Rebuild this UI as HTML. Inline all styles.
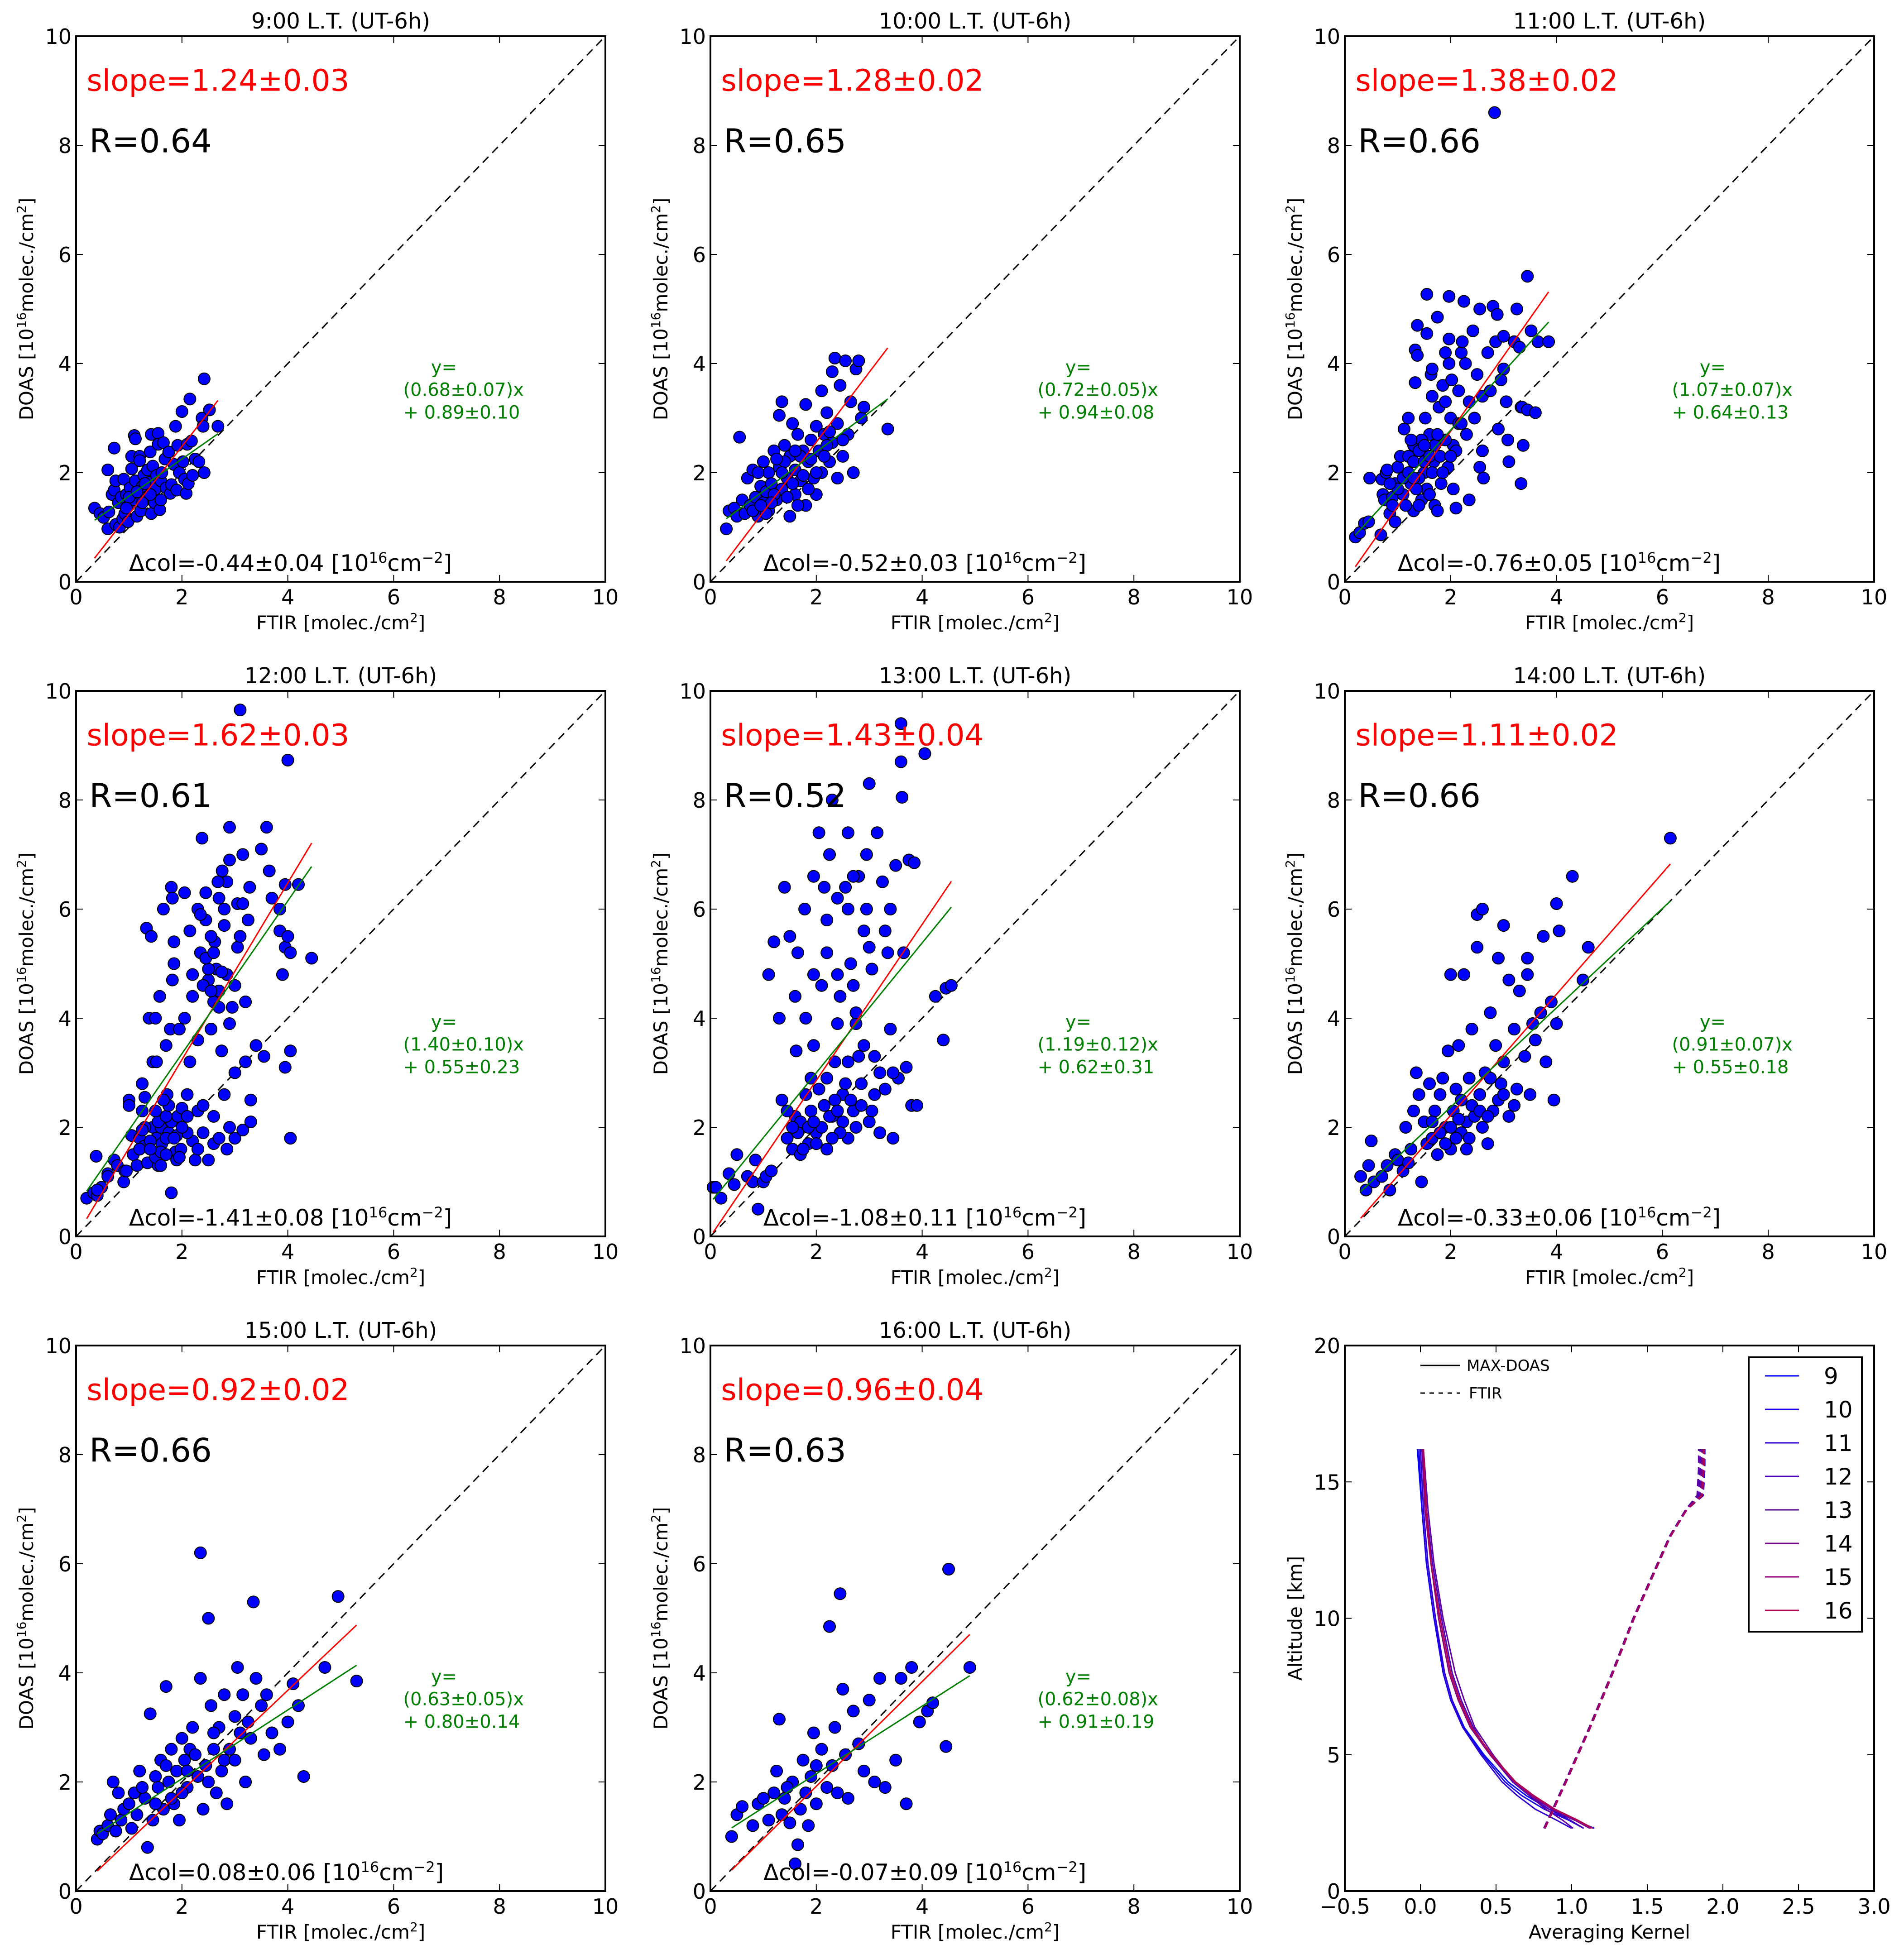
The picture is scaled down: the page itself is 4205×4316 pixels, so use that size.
<!DOCTYPE html>
<html><head><meta charset="utf-8"><style>
html,body{margin:0;padding:0;background:#fff}
svg{display:block}
text{font-family:"DejaVu Sans","Liberation Sans",sans-serif}
</style></head><body>
<svg id="fig" xmlns="http://www.w3.org/2000/svg" width="4205" height="4316" viewBox="0 0 4205 4316"></svg>
<script>
const titles=["9:00 L.T. (UT-6h)","10:00 L.T. (UT-6h)","11:00 L.T. (UT-6h)","12:00 L.T. (UT-6h)","13:00 L.T. (UT-6h)","14:00 L.T. (UT-6h)","15:00 L.T. (UT-6h)","16:00 L.T. (UT-6h)"];
const slopes=[1.24,1.28,1.38,1.62,1.43,1.11,0.92,0.96];
const slopeTxt=["1.24±0.03","1.28±0.02","1.38±0.02","1.62±0.03","1.43±0.04","1.11±0.02","0.92±0.02","0.96±0.04"];
const rTxt=["0.64","0.65","0.66","0.61","0.52","0.66","0.66","0.63"];
const fitA=[0.68,0.72,1.07,1.40,1.19,0.91,0.63,0.62];
const fitB=[0.89,0.94,0.64,0.55,0.62,0.55,0.80,0.91];
const fitATxt=["(0.68±0.07)x","(0.72±0.05)x","(1.07±0.07)x","(1.40±0.10)x","(1.19±0.12)x","(0.91±0.07)x","(0.63±0.05)x","(0.62±0.08)x"];
const fitBTxt=["+ 0.89±0.10","+ 0.94±0.08","+ 0.64±0.13","+ 0.55±0.23","+ 0.62±0.31","+ 0.55±0.18","+ 0.80±0.14","+ 0.91±0.19"];
const dcolTxt=["-0.44±0.04","-0.52±0.03","-0.76±0.05","-1.41±0.08","-1.08±0.11","-0.33±0.06","0.08±0.06","-0.07±0.09"];
const ticks=[0,2,4,6,8,10];
const pts9=[[0.35,1.35],[0.45,1.25],[0.52,1.18],[0.6,2.05],[0.6,0.97],[0.62,1.28],[0.68,1.6],[0.72,1.68],[0.72,2.45],[0.75,1.85],[0.75,1.05],[0.8,1.45],[0.82,1.0],[0.85,1.55],[0.88,1.15],[0.9,1.88],[0.92,1.25],[0.95,1.6],[0.98,1.1],[1.0,1.4],[1.02,1.72],[1.05,2.3],[1.05,2.07],[1.08,1.5],[1.1,2.68],[1.12,2.62],[1.12,1.85],[1.15,1.2],[1.18,1.62],[1.2,2.3],[1.2,2.22],[1.22,1.3],[1.25,1.75],[1.28,1.95],[1.3,1.5],[1.35,2.05],[1.38,1.82],[1.4,2.38],[1.42,2.7],[1.42,1.25],[1.45,2.12],[1.48,1.45],[1.5,1.7],[1.52,1.95],[1.55,2.72],[1.55,2.52],[1.58,1.32],[1.6,1.85],[1.62,2.0],[1.65,2.55],[1.68,2.25],[1.7,1.72],[1.75,2.38],[1.78,1.62],[1.8,1.78],[1.85,2.15],[1.88,2.85],[1.9,1.68],[1.92,2.5],[1.95,2.0],[2.0,3.12],[2.02,2.2],[2.05,1.88],[2.08,1.62],[2.1,2.52],[2.12,1.8],[2.15,3.35],[2.18,2.58],[2.2,1.95],[2.25,2.25],[2.32,2.2],[2.38,3.0],[2.4,2.85],[2.42,3.72],[2.42,2.0],[2.52,3.15],[2.68,2.85],[1.0,1.55],[1.15,1.65],[1.3,1.8],[1.4,1.6],[1.6,1.5],[0.95,1.35],[1.25,1.45]];
const pts10=[[0.3,0.97],[0.35,1.3],[0.45,1.35],[0.5,1.2],[0.55,2.65],[0.6,1.5],[0.65,1.25],[0.7,1.9],[0.75,1.4],[0.8,2.05],[0.85,1.55],[0.9,1.2],[0.95,1.75],[1.0,1.45],[1.0,2.2],[1.05,1.65],[1.1,1.3],[1.1,2.0],[1.15,1.8],[1.2,2.4],[1.25,1.5],[1.3,2.1],[1.3,3.05],[1.35,1.7],[1.35,3.3],[1.4,2.5],[1.45,1.9],[1.5,2.3],[1.5,1.2],[1.55,2.9],[1.6,1.6],[1.6,2.05],[1.65,2.7],[1.7,1.85],[1.75,2.4],[1.8,3.25],[1.8,1.4],[1.85,2.2],[1.9,2.6],[1.95,1.9],[2.0,2.85],[2.0,1.6],[2.05,2.4],[2.1,3.5],[2.1,2.0],[2.15,2.7],[2.2,3.1],[2.25,2.2],[2.3,3.85],[2.3,2.55],[2.35,4.1],[2.4,2.9],[2.4,1.9],[2.45,3.6],[2.5,2.3],[2.55,4.05],[2.6,2.7],[2.65,3.3],[2.7,2.0],[2.75,3.9],[2.8,4.05],[2.85,3.0],[2.9,3.2],[3.35,2.8],[0.9,2.0],[1.2,1.6],[1.4,2.2],[1.7,2.3],[1.9,2.25],[2.2,2.5],[1.55,1.8],[1.05,1.25],[0.8,1.3],[1.25,2.25],[1.65,1.4],[2.0,2.0],[1.15,1.45],[1.45,1.55],[1.75,1.95],[2.25,2.75],[0.95,1.4],[1.35,2.0],[1.85,1.7],[2.15,2.3],[2.5,2.6],[1.6,2.4]];
const pts11=[[0.2,0.82],[0.28,0.9],[0.37,1.07],[0.45,1.1],[0.47,1.9],[0.68,0.86],[0.72,1.6],[0.7,1.88],[0.75,1.5],[0.78,2.0],[0.8,2.05],[0.85,1.25],[0.9,1.55],[0.9,1.4],[0.95,1.8],[0.95,1.1],[1.0,2.1],[1.05,2.3],[1.1,1.6],[1.12,2.8],[1.2,3.0],[1.2,2.3],[1.25,1.8],[1.3,2.5],[1.3,1.3],[1.33,4.25],[1.37,4.15],[1.33,3.65],[1.37,4.7],[1.4,2.4],[1.45,1.5],[1.5,2.0],[1.52,3.0],[1.55,4.55],[1.55,5.27],[1.6,2.7],[1.63,3.8],[1.65,3.4],[1.65,3.9],[1.68,2.2],[1.7,1.4],[1.75,4.85],[1.75,1.3],[1.78,3.2],[1.8,2.6],[1.82,1.8],[1.85,3.6],[1.9,4.2],[1.97,5.23],[1.97,4.45],[1.97,4.0],[2.0,3.0],[2.02,3.7],[2.05,2.5],[2.05,1.7],[2.1,1.35],[2.15,2.9],[2.2,4.2],[2.22,4.4],[2.25,5.14],[2.28,4.0],[2.3,2.7],[2.35,1.5],[2.42,4.6],[2.45,3.0],[2.5,3.8],[2.55,2.1],[2.55,5.0],[2.6,2.4],[2.6,3.4],[2.62,1.9],[2.7,4.2],[2.75,3.5],[2.8,5.05],[2.85,4.4],[2.88,4.9],[2.9,2.8],[2.95,3.7],[3.0,4.5],[3.0,3.9],[3.05,3.3],[3.08,2.6],[3.1,2.2],[3.2,4.4],[3.25,5.0],[3.3,4.3],[3.33,3.2],[3.35,3.2],[3.33,1.8],[3.37,2.5],[3.45,5.6],[3.45,3.15],[3.52,4.6],[3.6,3.1],[3.65,4.4],[3.85,4.4],[2.83,8.6],[1.1,1.9],[1.2,2.0],[1.3,2.2],[1.4,1.9],[1.5,2.2],[1.6,2.3],[1.7,2.5],[1.8,2.3],[1.9,2.6],[1.55,1.7],[1.45,2.6],[1.35,1.7],[1.25,2.6],[1.65,2.0],[1.75,2.7],[1.95,2.1],[2.1,2.4],[2.2,2.9],[1.15,1.4],[1.0,1.7],[0.85,1.8],[1.4,1.4],[1.6,1.6],[1.85,2.0],[2.0,2.3],[1.3,1.9],[1.5,2.5],[2.35,3.3],[2.15,3.5],[1.9,3.3]];
const pts12=[[0.2,0.7],[0.33,0.8],[0.4,0.75],[0.48,0.9],[0.38,1.47],[0.6,1.15],[0.72,1.4],[0.9,1.0],[0.78,1.3],[0.92,1.2],[1.0,2.5],[1.0,2.4],[1.05,1.85],[1.08,1.5],[1.15,1.3],[1.2,1.8],[1.25,2.8],[1.25,2.3],[1.28,1.65],[1.3,2.55],[1.35,1.35],[1.38,4.0],[1.33,5.65],[1.42,5.5],[1.45,3.2],[1.45,2.0],[1.5,4.0],[1.52,1.8],[1.52,3.2],[1.55,1.3],[1.58,4.4],[1.6,2.0],[1.62,1.7],[1.65,6.0],[1.7,3.5],[1.72,2.6],[1.75,1.9],[1.78,3.8],[1.8,2.1],[1.8,0.8],[1.82,4.7],[1.85,5.0],[1.88,1.55],[1.9,1.4],[1.8,6.4],[1.82,6.2],[1.85,5.4],[1.92,2.2],[1.95,3.8],[1.98,1.6],[2.05,4.0],[2.05,6.3],[2.1,2.6],[2.15,3.2],[2.2,4.4],[2.2,1.75],[2.1,1.9],[2.25,1.4],[2.3,3.6],[2.3,2.3],[2.35,5.2],[2.4,2.4],[2.45,5.8],[2.5,4.7],[2.5,1.4],[2.55,3.8],[2.6,1.7],[2.62,5.4],[2.65,4.9],[2.7,4.5],[2.75,3.4],[2.8,2.6],[2.85,4.8],[2.9,3.9],[2.3,6.0],[2.38,7.3],[2.45,6.3],[2.55,5.5],[2.8,6.0],[2.8,5.7],[2.85,6.5],[2.7,6.2],[2.9,7.5],[2.9,6.9],[2.68,6.5],[2.76,6.7],[2.35,5.9],[3.0,4.6],[3.05,5.3],[3.05,6.1],[3.1,5.5],[3.15,7.0],[3.15,6.1],[3.2,4.3],[3.25,5.8],[3.28,6.4],[3.3,2.5],[4.0,8.73],[3.1,9.65],[3.6,7.5],[3.5,7.1],[3.65,6.7],[3.7,6.2],[3.85,6.0],[3.95,6.45],[4.2,6.45],[3.85,5.6],[3.95,5.3],[4.05,5.2],[4.0,5.5],[4.45,5.1],[3.9,4.8],[4.05,3.4],[3.95,3.1],[4.05,1.8],[3.2,3.2],[3.4,3.5],[3.55,3.3],[3.0,3.0],[2.6,2.2],[2.9,2.0],[2.85,1.6],[3.0,1.8],[3.15,1.95],[3.3,2.1],[2.7,1.8],[2.4,1.9],[1.5,1.45],[1.6,1.55],[1.7,1.8],[1.55,2.1],[1.4,1.75],[1.2,1.6],[1.3,2.0],[1.7,2.2],[1.9,1.85],[2.0,2.35],[1.75,2.4],[0.4,0.85],[0.6,1.1],[0.95,1.2],[2.5,4.9],[2.6,4.3],[2.75,4.85],[2.2,4.8],[2.95,4.2],[2.4,4.6],[1.6,1.3],[1.7,1.5],[1.85,1.8],[2.0,2.0],[1.4,1.6],[1.65,2.5],[2.1,2.2],[2.3,1.6],[1.95,1.45],[1.5,2.3],[1.25,1.95],[2.7,4.2],[2.55,4.5],[2.45,5.1],[2.15,5.6],[2.6,5.2]];
const pts13=[[0.05,0.9],[0.1,0.9],[0.2,0.7],[0.35,1.15],[0.45,0.95],[0.5,1.5],[0.7,1.1],[0.8,1.0],[0.85,1.4],[0.9,0.5],[1.0,1.0],[1.05,1.1],[1.1,4.8],[1.15,1.2],[1.2,5.4],[1.3,4.0],[1.35,2.5],[1.4,6.4],[1.45,1.8],[1.5,5.5],[1.55,1.6],[1.6,2.2],[1.62,3.4],[1.65,5.2],[1.7,1.5],[1.75,2.0],[1.78,6.0],[1.8,4.0],[1.85,1.7],[1.9,2.9],[1.95,6.6],[1.95,3.5],[2.0,1.9],[2.05,7.4],[2.1,4.6],[2.15,2.4],[2.2,5.8],[2.2,1.6],[2.25,7.0],[2.3,2.2],[2.3,8.0],[2.35,3.2],[2.4,6.2],[2.45,4.4],[2.5,2.6],[2.55,6.4],[2.6,1.8],[2.6,7.4],[2.65,5.0],[2.7,2.3],[2.75,3.9],[2.8,6.6],[2.85,2.8],[2.9,5.6],[2.95,7.0],[3.0,2.1],[3.0,8.3],[3.05,4.9],[3.1,3.3],[3.15,7.4],[3.2,1.9],[3.25,6.5],[3.3,2.7],[3.35,5.2],[3.4,3.8],[3.45,1.8],[3.5,6.8],[3.55,2.9],[3.6,9.4],[3.6,8.7],[3.62,8.05],[3.65,5.2],[3.7,3.1],[3.75,6.9],[3.8,2.4],[3.85,6.85],[3.9,2.4],[4.05,8.85],[4.25,4.4],[4.4,3.6],[4.45,4.55],[4.55,4.6],[3.45,3.0],[3.2,3.0],[2.9,3.5],[2.7,4.6],[2.4,3.9],[2.1,2.0],[1.9,2.3],[1.8,2.6],[2.05,2.7],[2.35,2.5],[2.5,2.1],[2.2,2.9],[1.7,2.1],[1.45,2.3],[2.75,2.0],[3.05,2.3],[2.95,6.0],[2.6,6.0],[2.15,6.4],[2.4,4.8],[1.95,4.8],[3.4,6.0],[2.7,6.6],[3.0,5.3],[1.6,4.4],[2.8,3.3],[1.85,2.0],[2.25,2.2],[2.65,2.5],[2.45,1.9],[2.0,1.7],[1.65,1.9],[1.75,1.6],[1.95,2.1],[2.4,2.3],[2.55,2.8],[2.85,2.4],[3.1,2.6],[2.3,1.8],[1.55,2.0],[2.6,3.2],[3.3,5.6],[2.75,4.1],[2.2,5.2]];
const pts14=[[0.3,1.1],[0.4,0.85],[0.45,1.3],[0.5,1.75],[0.55,1.0],[0.7,1.1],[0.8,1.3],[0.85,0.85],[0.95,1.5],[1.0,1.4],[1.1,1.2],[1.15,2.0],[1.2,1.35],[1.25,1.6],[1.3,2.3],[1.35,3.0],[1.4,2.6],[1.45,1.0],[1.5,2.1],[1.55,1.7],[1.6,2.8],[1.65,1.8],[1.7,2.3],[1.75,1.5],[1.8,2.6],[1.85,2.9],[1.9,2.0],[1.95,3.4],[2.0,1.6],[2.0,4.8],[2.05,2.3],[2.1,2.7],[2.15,3.5],[2.2,1.9],[2.25,4.8],[2.3,2.1],[2.35,2.9],[2.4,3.8],[2.45,2.2],[2.5,5.9],[2.5,5.3],[2.55,2.6],[2.6,6.0],[2.65,3.0],[2.7,1.7],[2.75,4.1],[2.8,2.3],[2.85,3.5],[2.9,5.1],[2.95,2.8],[3.0,5.7],[3.0,3.2],[3.1,2.2],[3.1,4.7],[3.2,3.8],[3.25,2.7],[3.3,4.5],[3.4,3.3],[3.45,5.1],[3.5,2.6],[3.6,3.6],[3.7,4.1],[3.75,5.5],[3.8,3.2],[3.9,4.3],[3.95,2.5],[4.0,3.9],[4.05,5.6],[4.3,6.6],[4.6,5.3],[4.5,4.7],[4.0,6.1],[3.45,4.8],[2.2,2.5],[2.6,2.0],[2.9,2.5],[1.8,1.9],[1.65,2.1],[2.35,1.8],[2.15,2.15],[6.15,7.3],[3.55,3.9],[2.75,2.9],[3.2,2.4],[2.4,2.4],[2.0,2.0],[2.55,2.3],[3.0,2.6],[1.9,1.7],[2.3,1.6],[2.7,2.2],[2.1,1.8]];
const pts15=[[0.4,0.95],[0.45,1.1],[0.5,1.05],[0.6,1.2],[0.65,1.4],[0.7,2.0],[0.75,1.1],[0.8,1.8],[0.85,1.3],[0.9,1.5],[1.0,1.6],[1.05,1.15],[1.1,1.8],[1.15,1.4],[1.2,2.2],[1.3,1.7],[1.35,0.8],[1.4,3.25],[1.45,1.3],[1.5,2.1],[1.55,1.9],[1.6,2.4],[1.65,1.5],[1.7,3.75],[1.75,2.0],[1.8,2.6],[1.85,1.6],[1.9,2.2],[1.95,1.3],[2.0,2.8],[2.05,2.4],[2.1,1.9],[2.15,2.6],[2.2,3.0],[2.3,2.1],[2.35,3.9],[2.35,6.2],[2.4,1.5],[2.45,2.3],[2.5,5.0],[2.55,3.4],[2.6,2.6],[2.65,1.8],[2.7,3.0],[2.75,2.2],[2.8,3.6],[2.85,1.6],[2.9,2.6],[3.0,3.2],[3.05,4.1],[3.1,2.9],[3.15,3.6],[3.2,2.0],[3.25,3.1],[3.35,5.3],[3.4,3.9],[3.5,3.4],[3.55,2.5],[3.6,3.6],[3.7,2.9],[3.85,2.6],[4.0,3.1],[4.1,3.8],[4.2,3.4],[4.3,2.1],[4.7,4.1],[4.95,5.4],[5.3,3.85],[2.0,1.8],[2.5,2.0],[1.8,1.7],[2.25,2.5],[2.8,2.4],[3.3,2.8],[1.25,1.9],[1.7,2.3],[2.1,2.2],[2.6,2.9],[3.0,2.4],[1.5,1.6]];
const pts16=[[0.4,1.0],[0.5,1.4],[0.6,1.55],[0.8,1.2],[0.9,1.6],[1.0,1.7],[1.1,1.3],[1.2,1.8],[1.25,2.2],[1.3,3.15],[1.35,1.4],[1.4,1.7],[1.5,1.25],[1.55,2.0],[1.6,0.5],[1.65,0.85],[1.7,1.5],[1.75,2.4],[1.8,1.8],[1.85,1.2],[1.9,2.1],[1.95,2.9],[2.0,1.6],[2.1,2.6],[2.2,1.9],[2.25,4.85],[2.3,2.3],[2.35,3.0],[2.4,1.8],[2.45,5.45],[2.5,3.7],[2.55,2.5],[2.7,3.3],[2.8,2.7],[2.9,2.2],[3.0,3.5],[3.1,2.0],[3.2,3.9],[3.3,1.9],[3.5,2.4],[3.6,3.9],[3.7,1.6],[3.8,4.1],[3.95,3.1],[4.1,3.3],[4.2,3.45],[4.45,2.65],[4.5,5.9],[4.9,4.1],[2.6,1.7],[1.45,1.9],[2.0,2.3]];
const allPts=[pts9,pts10,pts11,pts12,pts13,pts14,pts15,pts16];
const akAlt=[2.3,2.6,3.0,3.5,4.0,5.0,6.0,7.0,8.0,10.0,12.0,14.0,16.2];
const akHours=["9","10","11","12","13","14","15","16"];
const akColors=["#0000ff","#1800ea","#3000d2","#4800ba","#6000a4","#78008e","#900078","#b00050"];
const akMax=[
 [1.15,1.02,0.85,0.70,0.58,0.42,0.29,0.21,0.16,0.09,0.04,0.01,-0.02],
 [1.08,0.98,0.82,0.67,0.56,0.41,0.28,0.20,0.15,0.09,0.04,0.01,-0.01],
 [1.00,0.90,0.76,0.64,0.54,0.40,0.28,0.21,0.16,0.10,0.05,0.02,0.00],
 [1.08,0.99,0.85,0.72,0.61,0.46,0.35,0.27,0.21,0.14,0.08,0.04,0.01],
 [1.01,0.94,0.83,0.72,0.62,0.48,0.36,0.29,0.23,0.15,0.09,0.05,0.02],
 [1.12,1.02,0.87,0.73,0.62,0.46,0.33,0.25,0.19,0.12,0.07,0.03,0.01],
 [1.13,1.03,0.88,0.74,0.62,0.46,0.33,0.25,0.19,0.12,0.07,0.03,0.02],
 [1.14,1.04,0.89,0.75,0.63,0.47,0.34,0.26,0.20,0.13,0.07,0.04,0.02]];
const ftirAlt=[2.3,4.0,6.0,8.0,10.0,12.0,13.0,14.0,14.5,15.5,16.2];
const ftirAk=[0.82,0.96,1.12,1.27,1.41,1.57,1.65,1.76,1.85,1.86,1.86];
const ftirOffsets=[0.02,0.01,0.0,-0.01,-0.02,0.0,0.01,0.015];
const akXTicks=[-0.5,0,0.5,1,1.5,2,2.5,3];
const akYTicks=[0,5,10,15,20];

const NS="http://www.w3.org/2000/svg";
const svg=document.getElementById('fig');
function mk(tag,attrs,parent){const e=document.createElementNS(NS,tag);for(const k in attrs)e.setAttribute(k,attrs[k]);(parent||svg).appendChild(e);return e;}
const colsX=[168,1569,2970], rowsY=[80,1526,2972], W=1169, H=1205;
const fs=46;

for(let p=0;p<8;p++){
  const x0=colsX[p%3], y0=rowsY[Math.floor(p/3)];
  const sx=v=>x0+v/10*W, sy=v=>y0+H-v/10*H;
  const g=mk('g',{});
  
  
  const d=mk('line',{x1:sx(0),y1:sy(0),x2:sx(10),y2:sy(10),stroke:'#000','stroke-width':3,'stroke-dasharray':'18,12'},g);
  
  
  const pts=allPts[p];
  for(const pt of pts){
    const c=mk('circle',{cx:sx(pt[0]),cy:sy(pt[1]),r:13,fill:'#0000ff',stroke:'#000','stroke-width':2},g);
    
    
  }
  const xs=pts.map(q=>q[0]); const mn=Math.min(...xs), mx=Math.max(...xs);
  const rl=mk('line',{x1:sx(mn),y1:sy(slopes[p]*mn),x2:sx(mx),y2:sy(slopes[p]*mx),stroke:'#ff0000','stroke-width':3},g);
  
  
  const gl=mk('line',{x1:sx(mn),y1:sy(fitA[p]*mn+fitB[p]),x2:sx(mx),y2:sy(fitA[p]*mx+fitB[p]),stroke:'#008000','stroke-width':3},g);
  
  
  const fr=mk('rect',{x:x0,y:y0,width:W,height:H,fill:'none',stroke:'#000','stroke-width':4},g);
  
  
  for(const t of ticks){
    mk('line',{x1:sx(t),y1:y0+H,x2:sx(t),y2:y0+H-15,stroke:'#000','stroke-width':2},g);
    mk('line',{x1:sx(t),y1:y0,x2:sx(t),y2:y0+15,stroke:'#000','stroke-width':2},g);
    mk('line',{x1:x0,y1:sy(t),x2:x0+15,y2:sy(t),stroke:'#000','stroke-width':2},g);
    mk('line',{x1:x0+W,y1:sy(t),x2:x0+W-15,y2:sy(t),stroke:'#000','stroke-width':2},g);
    const xl=mk('text',{x:sx(t),y:y0+H+50,'font-size':fs,'text-anchor':'middle'},g); xl.textContent=t;
    
    
    const yl=mk('text',{x:x0-10,y:sy(t)+17,'font-size':fs,'text-anchor':'end'},g); yl.textContent=t;
    
    
  }
  const tt=mk('text',{x:x0+W/2,y:y0-17,'font-size':48,'text-anchor':'middle'},g); tt.textContent=titles[p];
  
  
  const xa=mk('text',{x:x0+W/2,y:y0+H+105,'font-size':42,'text-anchor':'middle'},g);
  xa.innerHTML='FTIR [molec./cm<tspan dy="-16" font-size="28">2</tspan><tspan dy="16">]</tspan>';
  
  
  const ya=mk('text',{x:0,y:0,'font-size':42,'text-anchor':'middle',transform:`translate(${x0-95},${y0+H/2}) rotate(-90)`},g);
  ya.innerHTML='DOAS [10<tspan dy="-16" font-size="28">16</tspan><tspan dy="16">molec./cm</tspan><tspan dy="-16" font-size="28">2</tspan><tspan dy="16">]</tspan>';
  
  
  const st=mk('text',{x:sx(0.2),y:sy(9.0),'font-size':66,fill:'#ff0000'},g); st.textContent='slope='+slopeTxt[p];
  
  
  const rt=mk('text',{x:sx(0.25),y:sy(7.87),'font-size':72,fill:'#000'},g); rt.textContent='R='+rTxt[p];
  
  
  const gt=mk('text',{x:sx(6.95),y:sy(3.82),'font-size':40,fill:'#008000','text-anchor':'middle'},g);
  gt.innerHTML=`<tspan x="${sx(6.95)}">y=</tspan><tspan x="${sx(6.18)}" dy="50" text-anchor="start">${fitATxt[p]}</tspan><tspan x="${sx(6.18)}" dy="50" text-anchor="start">${fitBTxt[p]}</tspan>`;
  
  
  const dt=mk('text',{x:sx(1.0),y:sy(0.2),'font-size':50,fill:'#000'},g);
  dt.innerHTML='Δcol='+dcolTxt[p]+' [10<tspan dy="-18" font-size="32">16</tspan><tspan dy="18">cm</tspan><tspan dy="-18" font-size="32">−2</tspan><tspan dy="18">]</tspan>';
  
  
}

{
  const x0=2970,y0=2972;
  const ax=v=>x0+(v+0.5)/3.5*W, ay=v=>y0+H-v/20*H;
  const g=mk('g',{});
  
  
  for(let i=0;i<8;i++){
    const pl=mk('polyline',{points:akAlt.map((a,k)=>ax(akMax[i][k])+','+ay(a)).join(' '),fill:'none',stroke:akColors[i],'stroke-width':3},g);
    
    
    const fl=mk('polyline',{points:ftirAlt.map((a,k)=>ax(ftirAk[k]+ftirOffsets[i]*(k>=8?1:0.2))+','+ay(a)).join(' '),fill:'none',stroke:akColors[i],'stroke-width':3.5,'stroke-dasharray':'16,10'},g);
    
    
  }
  const fr=mk('rect',{x:x0,y:y0,width:W,height:H,fill:'none',stroke:'#000','stroke-width':4},g);
  
  
  for(const t of akXTicks){
    mk('line',{x1:ax(t),y1:y0+H,x2:ax(t),y2:y0+H-15,stroke:'#000','stroke-width':2},g);
    mk('line',{x1:ax(t),y1:y0,x2:ax(t),y2:y0+15,stroke:'#000','stroke-width':2},g);
    const l=mk('text',{x:ax(t),y:y0+H+50,'font-size':fs,'text-anchor':'middle'},g); l.textContent=(t<0?'−':'')+Math.abs(t).toFixed(1);
    
    
  }
  for(const t of akYTicks){
    mk('line',{x1:x0,y1:ay(t),x2:x0+15,y2:ay(t),stroke:'#000','stroke-width':2},g);
    mk('line',{x1:x0+W,y1:ay(t),x2:x0+W-15,y2:ay(t),stroke:'#000','stroke-width':2},g);
    const l=mk('text',{x:x0-10,y:ay(t)+17,'font-size':fs,'text-anchor':'end'},g); l.textContent=t;
    
    
  }
  const xa=mk('text',{x:x0+W/2,y:y0+H+105,'font-size':42,'text-anchor':'middle'},g); xa.textContent='Averaging Kernel';
  
  
  const ya=mk('text',{x:0,y:0,'font-size':42,'text-anchor':'middle',transform:`translate(${x0-95},${y0+H/2}) rotate(-90)`},g); ya.textContent='Altitude [km]';
  
  
  mk('line',{x1:3137,y1:3016,x2:3224,y2:3016,stroke:'#000','stroke-width':3},g);
  const t1=mk('text',{x:3239,y:3028,'font-size':34},g); t1.textContent='MAX-DOAS';
  
  
  mk('line',{x1:3137,y1:3077,x2:3224,y2:3077,stroke:'#000','stroke-width':3,'stroke-dasharray':'10,10'},g);
  const t2=mk('text',{x:3244,y:3089,'font-size':34},g); t2.textContent='FTIR';
  
  
  const lb=mk('rect',{x:3862,y:2998,width:250,height:606,fill:'#fff',stroke:'#000','stroke-width':4},g);
  
  
  for(let i=0;i<8;i++){
    const yy=3039+i*74;
    mk('line',{x1:3898,y1:yy,x2:3973,y2:yy,stroke:akColors[i],'stroke-width':3},g);
    const lt=mk('text',{x:4028,y:yy+18,'font-size':50,'text-anchor':'start'},g); lt.textContent=akHours[i];
    
    
  }
}
</script>
</body></html>
